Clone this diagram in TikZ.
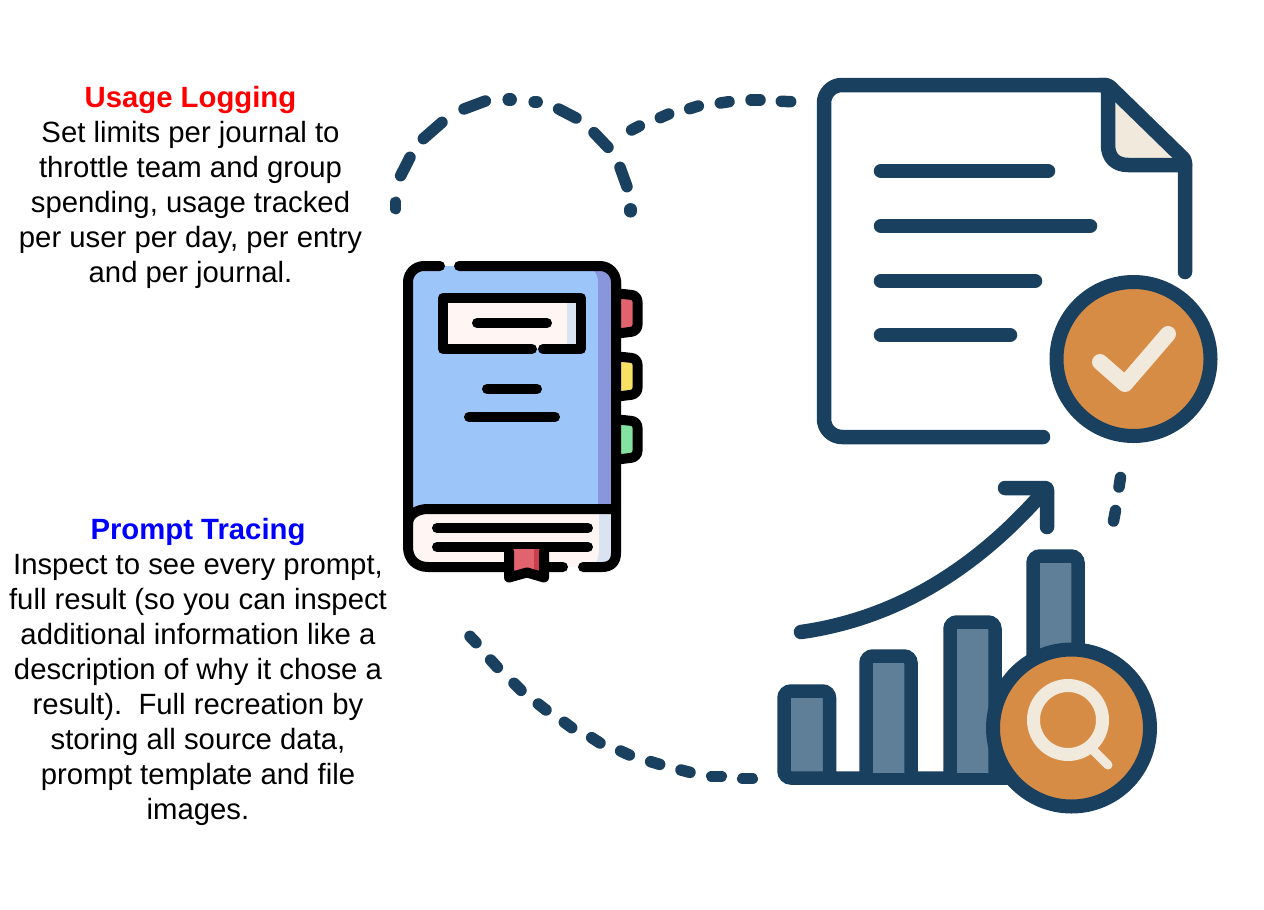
\documentclass[tikz,border=0pt]{standalone}
\usepackage{fontspec}
\setmainfont{Liberation Sans}
\definecolor{navy}{HTML}{1A4060}
\definecolor{orangefill}{HTML}{D68C45}
\definecolor{cream}{HTML}{F1E9DB}
\definecolor{barfill}{HTML}{5F7F98}
\definecolor{bookblue}{HTML}{9CC6FA}
\definecolor{bookpurple}{HTML}{8A96DC}
\definecolor{pagepink}{HTML}{FFF5F2}
\definecolor{pageshade}{HTML}{DAE3F2}
\definecolor{tabred}{HTML}{E0636E}
\definecolor{tabdark}{HTML}{C93F4E}
\definecolor{tabyellow}{HTML}{F7E266}
\definecolor{tabgreen}{HTML}{84E3A0}
\tikzset{
  blackline/.style={draw=black,line width=10pt,line cap=round,line join=round},
  navyline/.style={draw=navy,line width=14.5pt,line cap=round,line join=round},
  dashseg/.style={draw=navy,line width=11.5pt,line cap=round},
  dotseg/.style={draw=navy,line width=12.5pt,line cap=round},
  textblock/.style={align=center,font=\fontsize{29.3}{35}\selectfont,inner sep=0pt,anchor=north},
}
\begin{document}
\begin{tikzpicture}[x=1pt,y=-1pt]
\useasboundingbox (0,0) rectangle (1264,910);
\fill[white] (0,0) rectangle (1264,910);

% texts
\node[textblock] (usage) at (190.5,86.5) {\textcolor{red}{\textbf{Usage Logging}}\\Set limits per journal to\\throttle team and group\\spending, usage tracked\\per user per day, per entry\\and per journal.};
\node[textblock] (prompt) at (198,518) {\textcolor{blue}{\textbf{Prompt Tracing}}\\Inspect to see every prompt,\\full result (so you can inspect\\additional information like a\\description of why it chose a\\result).\ \ Full recreation by\\storing all source data,\\prompt template and file\\images.};

% dashed arcs
\foreach \a/\b/\c/\d in {47/367/47/386, 62/287/90/232, 130/176/186/127, 252/87/316/63, 536/87/588/114, 642/158/684/202, 720/262/741/320, 755/150/778/138, 841/113/866/102, 929/86/955/78, 1021/69/1047/65, 1113/60/1140/60, 1204/64/1232/65}
  \draw[dashseg] ({380+\a/3},{80+\b/3}) -- ({380+\c/3},{80+\d/3});
\foreach \a/\b/\c/\d in {386/59/392/59, 464/66/470/66, 752/388/752/394}
  \draw[dotseg] ({380+\a/3},{80+\b/3}) -- ({380+\c/3},{80+\d/3});
\foreach \a/\b/\c/\d in {60/49/78/68, 122/120/142/142, 192/190/213/211, 265/252/288/270, 343/307/365/323, 425/353/450/369, 512/393/538/405, 602/425/629/433, 693/450/720/457, 785/469/814/469, 878/476/907/476}
  \draw[dashseg] ({450+\a/3},{620+\b/3}) -- ({450+\c/3},{620+\d/3});
\draw[dashseg] (1120.5,477.5) -- (1119,487);
\draw[dashseg] (1115.5,510.5) -- (1113.5,521);

% book: tabs
\foreach \o/\c in {0/tabred,63/tabyellow,126/tabgreen}{
  \fill[\c] (620,298+\o) -- (633,299.5+\o) -- (633,327+\o) -- (620,329+\o) -- cycle;
  \draw[blackline,rounded corners=6pt] (618,293.5+\o) -- (637.5,295.5+\o) -- (637.5,331+\o) -- (618,333.5+\o);
}
% book: fills
\fill[bookblue,rounded corners=14pt] (408,520) -- (408,266) -- (616,266) -- (616,520) -- cycle;
\fill[bookpurple] (594,271) .. controls (597,274) and (598,278) .. (598,282) -- (598,509) -- (616,509) -- (616,271) -- cycle;
\fill[pagepink] (408,524) .. controls (408,514) and (418,509) .. (428,509) -- (616,509) -- (616,553) .. controls (616,562) and (611,567) .. (602,567) -- (428,567) .. controls (416,567) and (408,559) .. (408,547) -- cycle;
\fill[pageshade] (599,509) -- (616,509) -- (616,553) .. controls (616,562) and (611,567) .. (602,567) -- (594,567) .. controls (598,560) and (599,555) .. (599,550) -- cycle;
% book: label
\fill[pagepink] (443,298) rectangle (581,349);
\fill[pageshade] (567,298) rectangle (581,349);
% book: outline
\draw[blackline,rounded corners=16pt] (440,266) -- (408,266) -- (408,547);
\draw[blackline] (408,547) .. controls (408,559) and (416,567) .. (428,567) -- (563,567);
\draw[blackline] (583,567) -- (602,567) .. controls (611,567) and (616,562) .. (616,553) -- (616,280);
\draw[blackline,rounded corners=16pt] (459,266) -- (616,266) -- (616,300);
\draw[blackline] (408,524) .. controls (408,514) and (418,509) .. (428,509) -- (616,509);
\draw[blackline] (437,528) -- (588,528);
\draw[blackline] (437,547) -- (588,547);
\draw[blackline] (532,349) -- (443,349) -- (443,298) -- (581,298) -- (581,349) -- (543,349);
\draw[blackline] (477,323) -- (547,323);
\draw[blackline] (487,389) -- (537,389);
\draw[blackline] (469,417) -- (555,417);
% book: ribbon
\fill[tabred] (509,549) -- (544,549) -- (544,574) -- (527,569) -- (509,574) -- cycle;
\fill[tabdark] (534,549) -- (541,549) -- (541,573) -- (534,571) -- cycle;
\draw[blackline] (509,551) -- (509,577.5) -- (527,572.5) -- (544,577.5) -- (544,551);

% document
\draw[navyline,rounded corners=18pt] (1043,437) -- (824,437) -- (824,85) -- (1105,85);
\fill[cream] (1112,92) -- (1180,160) -- (1112,160) -- cycle;
\draw[navyline,rounded corners=3pt] (1100,85) -- (1108,85) -- (1185,160) -- (1185,272);
\draw[navyline] (1108,90) -- (1108,145) .. controls (1108,158) and (1116,165) .. (1128,165) -- (1185,165);
\draw[navyline] (881,171) -- (1048,171);
\draw[navyline] (881,226) -- (1090,226);
\draw[navyline] (881,281) -- (1035,281);
\draw[navyline] (881,335) -- (1010,335);
\node[circle,draw=navy,line width=14pt,fill=orangefill,minimum size=154pt,inner sep=0pt] (okc) at (1133.5,359) {};
\draw[draw=cream,line width=16pt,line cap=round,line join=round] (1100,362) -- (1125,384) -- (1168,334);

% arrow
\draw[navyline] (801,632) .. controls (900,618) and (980,565) .. (1045,490);
\draw[navyline,rounded corners=2pt] (1005,488) -- (1047,488) -- (1047,527);

% bars
\fill[barfill] (784,691) rectangle (829.5,773);
\draw[navy,line width=13.5pt,rounded corners=7pt] (829.5,773) -- (829.5,691) -- (784,691) -- (784,778) -- (1040,778);
\foreach \l/\r/\t/\s in {866/911/656/773, 950/995/622/773, 1033/1078/556/700}{
  \fill[barfill] (\l,\t) rectangle (\r,\s);
  \draw[navy,line width=13.5pt,rounded corners=7pt] (\l,\s) -- (\l,\t) -- (\r,\t) -- (\r,\s);
}
\node[circle,draw=navy,line width=14pt,fill=orangefill,minimum size=157pt,inner sep=0pt] (magc) at (1071.5,728) {};
\draw[cream,line width=9pt,line cap=round] (1091,748) -- (1108,765);
\draw[cream,line width=13pt] (1068,720) circle[radius=34.5];
\end{tikzpicture}
\end{document}
